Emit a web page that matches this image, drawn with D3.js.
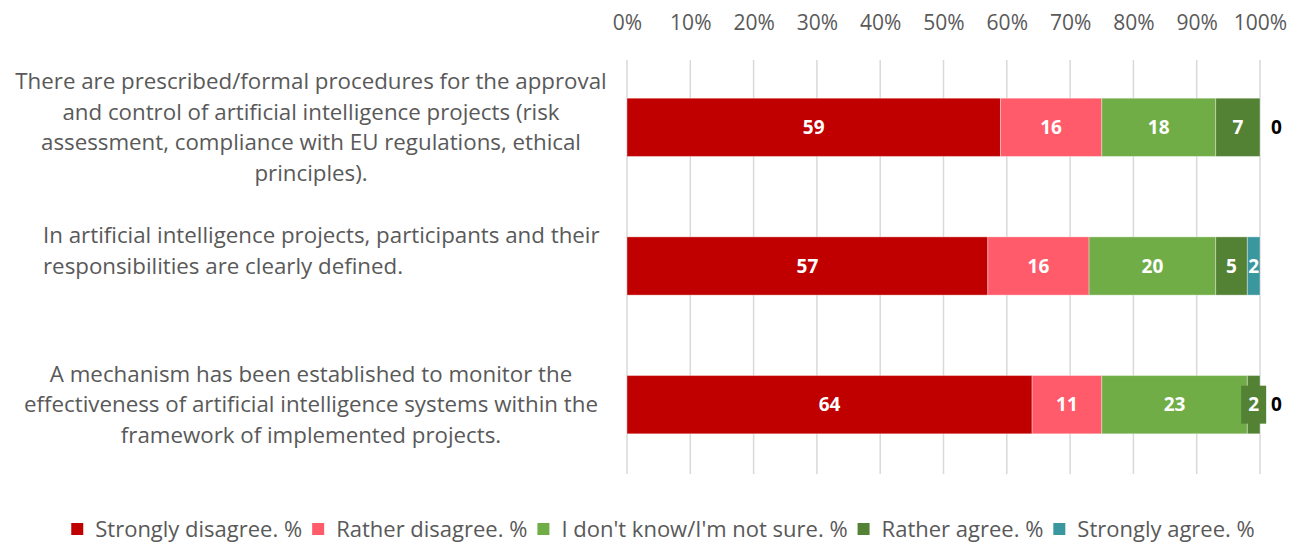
<!DOCTYPE html>
<html><head><meta charset="utf-8">
<script src="https://cdn.jsdelivr.net/npm/d3@7"></script>
<style>body{margin:0;background:#fff;} svg{display:block;font-family:"Open Sans",sans-serif;}</style>
</head><body>
<svg id="c" width="1291" height="542"></svg>
<script>
const categories = [
  "There are prescribed/formal procedures for the approval and control of artificial intelligence projects (risk assessment, compliance with EU regulations, ethical principles).",
  "In artificial intelligence projects, participants and their responsibilities are clearly defined.",
  "A mechanism has been established to monitor the effectiveness of artificial intelligence systems within the framework of implemented projects."
];
const categoryLines = [
  ["There are prescribed/formal procedures for the approval", "and control of artificial intelligence projects (risk", "assessment, compliance with EU regulations, ethical", "principles)."],
  ["In artificial intelligence projects, participants and their", "responsibilities are clearly defined.", ""],
  ["A mechanism has been established to monitor the", "effectiveness of artificial intelligence systems within the", "framework of implemented projects."]
];
const seriesNames = ["Strongly disagree. %", "Rather disagree. %", "I don't know/I'm not sure. %", "Rather agree. %", "Strongly agree. %"];
const stronglyDisagree = [59, 57, 64];
const ratherDisagree   = [16, 16, 11];
const dontKnow         = [18, 20, 23];
const ratherAgree      = [7, 5, 2];
const stronglyAgree    = [0, 2, 0];
const tickValues = [0, 10, 20, 30, 40, 50, 60, 70, 80, 90, 100];
const colors = ["#C00000", "#FF5B6B", "#70AD47", "#548235", "#3A979E"];

const seriesValues = [stronglyDisagree, ratherDisagree, dontKnow, ratherAgree, stronglyAgree];
const rows = categories.map((c, i) => {
  const o = {cat: c};
  seriesNames.forEach((s, j) => o[s] = seriesValues[j][i]);
  return o;
});
const stacked = d3.stack().keys(seriesNames)(rows);

const svg = d3.select("#c");
const x = d3.scaleLinear().domain([0, 100]).range([627, 1260]);
const y = d3.scaleBand().domain(categories).range([58, 474]).paddingInner(0.58).paddingOuter(0.29);
const color = d3.scaleOrdinal().domain(seriesNames).range(colors);

// gridlines
svg.append("g").selectAll("line").data(tickValues).join("line")
  .attr("x1", d => x(d)).attr("x2", d => x(d))
  .attr("y1", 60).attr("y2", 474)
  .attr("stroke", "#d9d9d9").attr("stroke-width", 1.5);

// top axis labels
const axis = d3.axisTop(x).tickValues(tickValues).tickFormat(d => d + "%").tickSize(0).tickPadding(0);
const ag = svg.append("g").attr("transform", "translate(0,30)").call(axis);
ag.select(".domain").remove();
ag.selectAll("text").attr("fill", "#595959").style("font-size", "21px").style("font-family", "'Open Sans',sans-serif");

// bars
const sg = svg.append("g").selectAll("g").data(stacked).join("g").attr("fill", d => color(d.key));
sg.selectAll("rect").data(d => d.map(v => ({v, key: d.key}))).join("rect")
  .attr("x", d => x(d.v[0]))
  .attr("width", d => x(d.v[1]) - x(d.v[0]))
  .attr("y", d => y(d.v.data.cat))
  .attr("height", y.bandwidth())
  .attr("stroke", "rgba(255,255,255,0.35)").attr("stroke-width", 1);

// value labels
const lg = svg.append("g");
stacked.forEach((layer, li) => {
  layer.forEach(v => {
    const val = v[1] - v[0];
    const cy = y(v.data.cat) + y.bandwidth() / 2;
    if (val === 0) {
      lg.append("text").attr("x", x(v[1]) + 11).attr("y", cy).attr("dy", "0.35em")
        .attr("font-size", 19).attr("font-weight", "bold").attr("fill", "#000").text(val);
      return;
    }
    const cx = (x(v[0]) + x(v[1])) / 2;
    const segW = x(v[1]) - x(v[0]);
    const t = lg.append("text").attr("x", cx).attr("y", cy).attr("dy", "0.35em")
      .attr("text-anchor", "middle").attr("font-size", 19).attr("font-weight", "bold")
      .attr("fill", "#fff").text(val);
    const bb = t.node().getBBox();
    if (bb.width + 8 > segW && li < stacked.length - 1) {
      lg.insert("rect", () => t.node())
        .attr("x", cx - bb.width / 2 - 7).attr("width", bb.width + 14)
        .attr("y", cy - 19).attr("height", 38).attr("fill", color(layer.key));
    }
  });
});

// category labels
const cg = svg.append("g");
categories.forEach((c, i) => {
  const lines = categoryLines[i];
  const cy = y(c) + y.bandwidth() / 2;
  const lh = 30.5;
  const t = cg.append("text").attr("fill", "#595959").attr("font-size", 22.3)
    .attr("text-anchor", i === 1 ? "start" : "middle");
  lines.forEach((ln, k) => {
    t.append("tspan").attr("x", i === 1 ? 43 : 311)
      .attr("y", cy + (k - (lines.length - 1) / 2) * lh).attr("dy", "0.35em").text(ln);
  });
});

// legend
const leg = svg.append("g").attr("transform", "translate(0,529)");
let lx = 0;
const items = [];
seriesNames.forEach((s, i) => {
  const g = leg.append("g");
  g.append("rect").attr("x", 0).attr("y", -6).attr("width", 12).attr("height", 12).attr("fill", colors[i]);
  const t = g.append("text").attr("x", 24).attr("dy", "0.35em").attr("font-size", 22).attr("fill", "#595959").text(s);
  const w = 24 + t.node().getComputedTextLength();
  items.push({g, x: lx});
  lx += w + 10;
});
const total = lx - 10;
const start = 663 - total / 2;
items.forEach(it => it.g.attr("transform", `translate(${start + it.x},0)`));
</script>
</body></html>
